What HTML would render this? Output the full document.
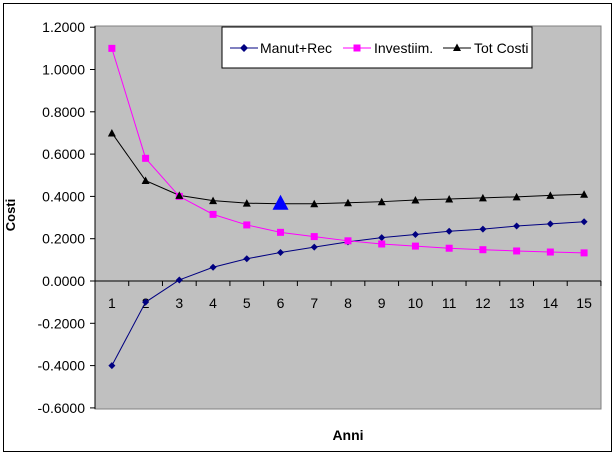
<!DOCTYPE html>
<html><head><meta charset="utf-8"><style>
html,body{margin:0;padding:0;background:#fff;width:615px;height:456px;overflow:hidden}
svg{display:block;font-family:"Liberation Sans",sans-serif}
</style></head><body>
<svg id="s" width="615" height="456" xmlns="http://www.w3.org/2000/svg">
<rect x="3.5" y="3.5" width="608" height="448" fill="#fff" stroke="#000" stroke-width="1"/>
<rect x="95" y="26" width="506" height="383" fill="#c0c0c0" stroke="#808080" stroke-width="1"/>
<g id="g"></g>
<rect x="222" y="27" width="310" height="41" fill="#fff" stroke="#000" stroke-width="1"/>
<line x1="230" y1="48" x2="258" y2="48" stroke="#000080"/><path d="M244 44 L248 48 L244 52 L240 48Z" fill="#000080"/>
<text x="260" y="53" font-size="14">Manut+Rec</text>
<line x1="343" y1="48" x2="371" y2="48" stroke="#ff00ff"/><rect x="353.5" y="44.5" width="7" height="7" fill="#ff00ff"/>
<text x="374" y="53" font-size="14">Investiim.</text>
<line x1="443" y1="48" x2="471" y2="48" stroke="#000"/><path d="M457 43.5 L461 51 L453 51Z" fill="#000"/>
<text x="474" y="53" font-size="14">Tot Costi</text>
<text x="348" y="440" font-size="14" font-weight="bold" text-anchor="middle">Anni</text>
<text transform="translate(15,215) rotate(-90)" font-size="13" font-weight="bold" text-anchor="middle">Costi</text>
</svg>
<script>
var g=document.getElementById('g'),h='';
function Y(v){return 281-v*211.5}
function X(i){return 95+33.73*(i+0.5)}
h+='<line x1="95" y1="26" x2="95" y2="409" stroke="#000"/>';
for(var k=0;k<=9;k++){var v=1.2-0.2*k,y=Y(v);h+='<line x1="90" y1="'+y+'" x2="95" y2="'+y+'" stroke="#000"/>';
h+='<text x="85" y="'+(y+5)+'" font-size="14" text-anchor="end">'+(v<-0.001?'-':'')+Math.abs(v).toFixed(4)+'</text>';}
h+='<line x1="95" y1="281" x2="601" y2="281" stroke="#000"/>';
for(var i=0;i<=15;i++){var x=95+33.73*i;h+='<line x1="'+x+'" y1="281" x2="'+x+'" y2="286" stroke="#000"/>';}
for(var i=0;i<15;i++)h+='<text x="'+X(i)+'" y="308" font-size="14" text-anchor="middle">'+(i+1)+'</text>';
var m=[-0.4,-0.1,0.005,0.065,0.105,0.135,0.16,0.185,0.205,0.22,0.235,0.245,0.26,0.27,0.28];
var inv=[1.1,0.58,0.40,0.315,0.265,0.23,0.21,0.19,0.175,0.165,0.155,0.148,0.142,0.137,0.133];
var t=[0.70,0.475,0.405,0.38,0.368,0.365,0.365,0.37,0.375,0.383,0.388,0.393,0.398,0.405,0.41];
function line(a,c){var p=a.map(function(v,i){return X(i)+','+Y(v)}).join(' ');return '<polyline points="'+p+'" fill="none" stroke="'+c+'" stroke-width="1"/>';}
h+=line(m,'#000080')+line(inv,'#ff00ff')+line(t,'#000');
m.forEach(function(v,i){var x=X(i),y=Y(v);h+='<path d="M'+x+' '+(y-3.5)+' L'+(x+3.5)+' '+y+' L'+x+' '+(y+3.5)+' L'+(x-3.5)+' '+y+'Z" fill="#000080"/>';});
inv.forEach(function(v,i){h+='<rect x="'+(X(i)-3.5)+'" y="'+(Y(v)-3.5)+'" width="7" height="7" fill="#ff00ff"/>';});
t.forEach(function(v,i){var x=X(i),y=Y(v);h+='<path d="M'+x+' '+(y-4)+' L'+(x+4)+' '+(y+3.5)+' L'+(x-4)+' '+(y+3.5)+'Z" fill="#000"/>';});
var x=X(5),y=Y(0.365);h+='<path d="M'+x+' '+(y-9)+' L'+(x+8)+' '+(y+6)+' L'+(x-8)+' '+(y+6)+'Z" fill="#0000ff"/>';
g.innerHTML=h;
</script>
</body></html>
